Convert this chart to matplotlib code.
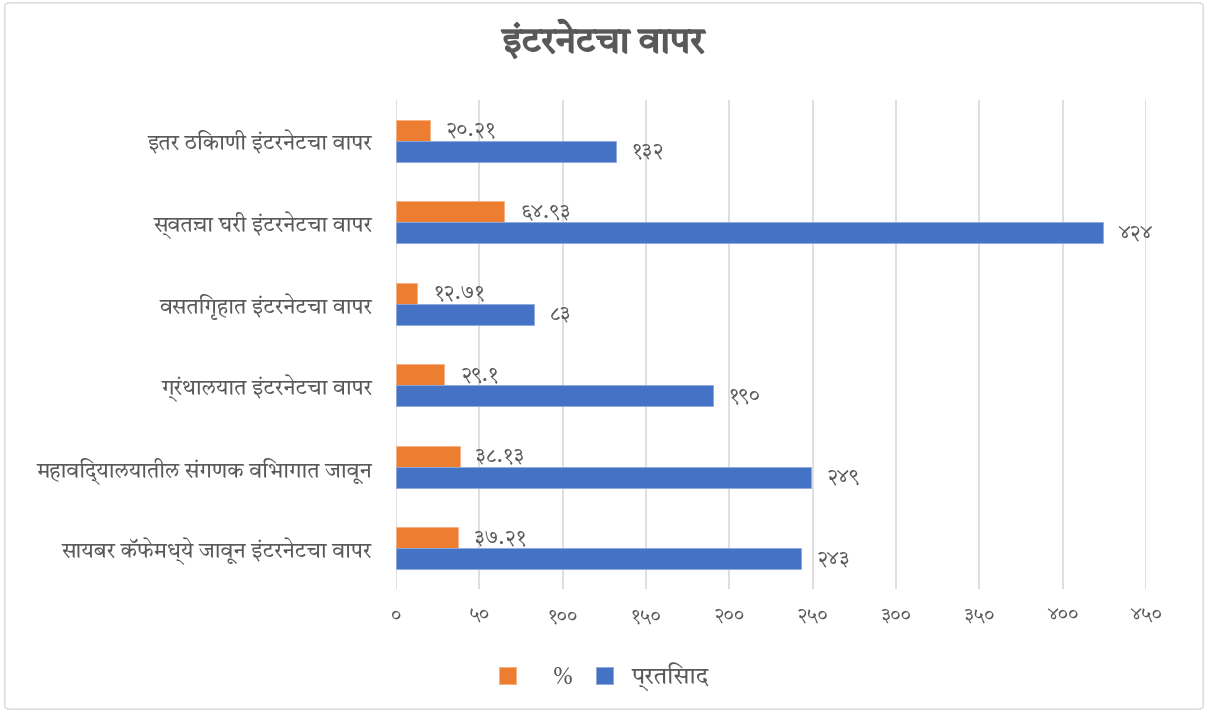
import matplotlib
matplotlib.use("Agg")
import matplotlib.pyplot as plt
import matplotlib.patheffects as pe
from matplotlib.patches import FancyBboxPatch

categories = [
    "इतर ठिकाणी इंटरनेटचा वापर",
    "स्वतःचा घरी इंटरनेटचा वापर",
    "वसतिगृहात इंटरनेटचा वापर",
    "ग्रंथालयात इंटरनेटचा वापर",
    "महाविद्यालयातील संगणक विभागात जावून",
    "सायबर कॅफेमध्ये जावून इंटरनेटचा वापर",
]
percent = [20.21, 64.93, 12.71, 29.1, 38.13, 37.21]
responses = [132, 424, 83, 190, 249, 243]
x_ticks = [0, 50, 100, 150, 200, 250, 300, 350, 400, 450]

title = "इंटरनेटचा वापर"
legend_labels = ["   %", "प्रतिसाद"]

ORANGE = "#ED7D31"
BLUE = "#4472C4"
TEXT = "#595959"

DEVA_DIGITS = str.maketrans("0123456789", "०१२३४५६७८९")


def deva(value):
    return str(value).translate(DEVA_DIGITS)


plt.rcParams["font.family"] = ["Tiro Devanagari Marathi", "DejaVu Sans"]

fig = plt.figure(figsize=(12.08, 7.12), dpi=100)
fig.patches.append(FancyBboxPatch((0.004, 0.004), 0.992, 0.992,
                                  boxstyle="round,pad=0,rounding_size=0.004",
                                  transform=fig.transFigure, fill=False,
                                  edgecolor="#D9D9D9", linewidth=1.0))
ax = fig.add_axes([0.3278, 0.1728, 0.6209, 0.6868])

y = list(range(len(categories)))
h = 0.26
ax.barh([i - h / 2 for i in y], percent, height=h, color=ORANGE,
        edgecolor="#F4B183", linewidth=0.6, label=legend_labels[0], zorder=3)
ax.barh([i + h / 2 for i in y], responses, height=h, color=BLUE,
        edgecolor="#8FAADC", linewidth=0.6, label=legend_labels[1], zorder=3)

# data labels just right of each bar
for i, (p, r) in enumerate(zip(percent, responses)):
    ax.text(p + 9.5, i - h / 2, deva(p), va="center", ha="left",
            fontsize=15, color=TEXT)
    ax.text(r + 9.5, i + h / 2, deva(r), va="center", ha="left",
            fontsize=15, color=TEXT)

ax.set_xlim(0, 450)
ax.set_ylim(len(categories) - 0.5, -0.5)
ax.set_xticks(x_ticks)
ax.set_xticklabels([deva(t) for t in x_ticks], fontsize=14, color=TEXT)
ax.set_yticks(y)
ax.set_yticklabels(categories, fontsize=15.5, color=TEXT)
ax.tick_params(axis="both", length=0)
ax.tick_params(axis="y", pad=17)
ax.tick_params(axis="x", pad=13)
ax.grid(axis="x", color="#D9D9D9", linewidth=1.2, zorder=0)
for s in ax.spines.values():
    s.set_visible(False)

fig.text(0.5, 0.94, title, ha="center", va="center", fontsize=26,
         color=TEXT, path_effects=[pe.withStroke(linewidth=1.2, foreground=TEXT)])

fig.legend(loc="center", bbox_to_anchor=(0.5, 0.05), ncol=2, frameon=False,
           fontsize=17, labelcolor=TEXT, handlelength=0.7, handleheight=0.7,
           columnspacing=1.0, handletextpad=0.8)

fig.savefig("out.png", dpi=100)
